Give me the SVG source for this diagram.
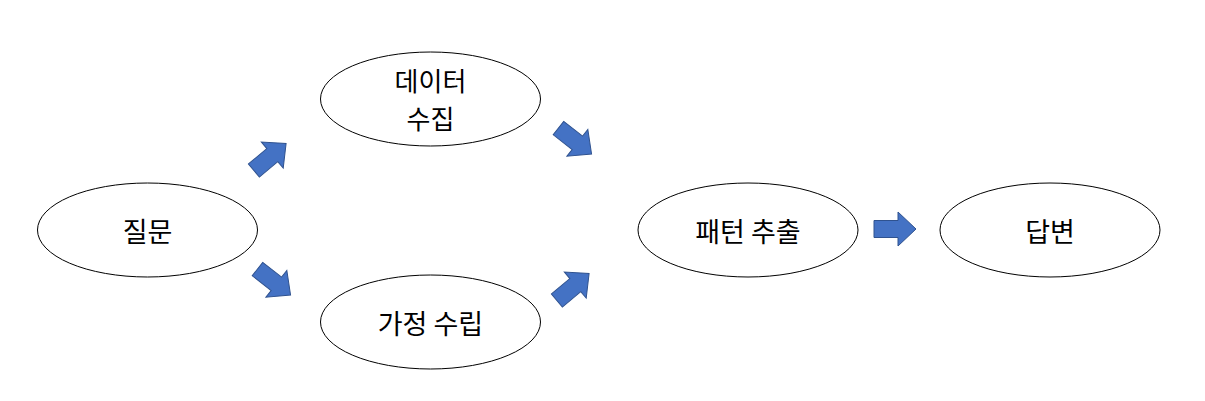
<svg xmlns="http://www.w3.org/2000/svg" xmlns:xlink="http://www.w3.org/1999/xlink" width="1205" height="401" viewBox="0 0 1205 401">
<style>
.node ellipse{fill:#fff;stroke:#000;stroke-width:1}
.node text{font-family:"Noto Sans CJK KR","Noto Sans",sans-serif;font-size:27px;fill:#000;text-anchor:middle;dominant-baseline:central}
.node text.two{font-size:26px}
.arr{fill:#4472C4;stroke:#2F528F;stroke-width:1}
</style>
<defs>
<path id="blk" d="M-21,-8.5 H3 V-17 L21,0 L3,17 V8.5 H-21 Z"/>
</defs>
<rect width="1205" height="401" fill="#fff"/>
<g id="connectors">
<use xlink:href="#blk" class="arr" transform="translate(270,157) rotate(-40)"/>
<use xlink:href="#blk" class="arr" transform="translate(274,282) rotate(38)"/>
<use xlink:href="#blk" class="arr" transform="translate(575,141) rotate(38)"/>
<use xlink:href="#blk" class="arr" transform="translate(573,287) rotate(-40)"/>
<use xlink:href="#blk" class="arr" transform="translate(895,229)"/>
</g>
<g id="n1" class="node"><ellipse cx="147.5" cy="230" rx="110" ry="47"/><text x="147.5" y="230">질문</text></g>
<g id="n2" class="node"><ellipse cx="430.5" cy="99" rx="110" ry="47"/><text class="two" x="430.5" y="79">데이터</text><text class="two" x="430.5" y="117">수집</text></g>
<g id="n3" class="node"><ellipse cx="430.5" cy="322" rx="110" ry="47"/><text x="430.5" y="322">가정 수립</text></g>
<g id="n4" class="node"><ellipse cx="748" cy="230" rx="110" ry="47"/><text x="748" y="230">패턴 추출</text></g>
<g id="n5" class="node"><ellipse cx="1050" cy="230" rx="110" ry="47"/><text x="1050" y="230">답변</text></g>
</svg>
